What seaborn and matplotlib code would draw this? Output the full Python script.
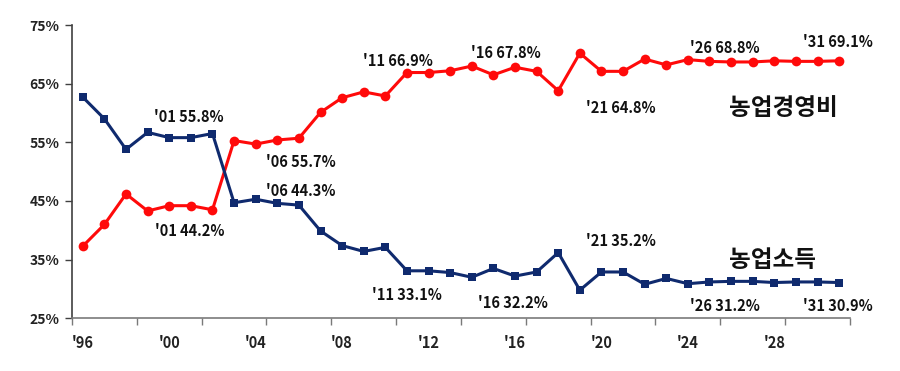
import numpy as np
import pandas as pd
import matplotlib
matplotlib.use("Agg")
import matplotlib.pyplot as plt
import seaborn as sns

# values (share of farm revenue, %)
years = list(range(1996, 2032))
cost_share = [37.3, 41.0, 46.2, 43.3, 44.2, 44.2, 43.5, 55.3, 54.7, 55.4,
              55.7, 60.1, 62.6, 63.6, 62.9, 66.9, 66.9, 67.2, 68.0, 66.5,
              67.8, 67.1, 63.8, 70.2, 67.1, 67.1, 69.2, 68.2, 69.1, 68.8,
              68.7, 68.7, 68.9, 68.8, 68.8, 68.9]
income_share = [62.7, 59.0, 53.8, 56.7, 55.8, 55.8, 56.5, 44.7, 45.3, 44.6,
                44.3, 39.9, 37.4, 36.4, 37.1, 33.1, 33.1, 32.8, 32.0, 33.5,
                32.2, 32.9, 36.2, 29.8, 32.9, 32.9, 30.8, 31.8, 30.9, 31.2,
                31.3, 31.3, 31.1, 31.2, 31.2, 31.1]
ylabels = ["25%", "35%", "45%", "55%", "65%", "75%"]
label_years = years[::4]

# callout labels: (text, x position in years, y in %)
callouts = [
    ("'01 55.8%", 2000.9, 59.3), ("'01 44.2%", 2000.95, 39.9),
    ("'06 55.7%", 2006.1, 51.6), ("'06 44.3%", 2006.1, 46.7),
    ("'11 66.9%", 2010.6, 68.9), ("'11 33.1%", 2011.0, 29.0),
    ("'16 67.8%", 2015.6, 70.2), ("'16 32.2%", 2015.9, 27.6),
    ("'21 64.8%", 2020.9, 60.9), ("'21 35.2%", 2020.9, 38.2),
    ("'26 68.8%", 2025.7, 71.1), ("'26 31.2%", 2025.7, 27.1),
    ("'31 69.1%", 2030.95, 72.1), ("'31 30.9%", 2030.95, 27.1),
]

df = pd.DataFrame({"year": years, "cost": cost_share, "income": income_share})
df["idx"] = df["year"] - years[0]

sns.set_theme(style="white")
plt.rcParams["font.family"] = ["Noto Sans CJK KR", "DejaVu Sans"]

fig = plt.figure(figsize=(9, 3.71), dpi=100)
ax = fig.add_axes([0.08, 0.142, 0.8644, 0.7906])

sns.lineplot(data=df, x="idx", y="cost", ax=ax, color="#ff0a0a", lw=2.2,
             marker="o", markersize=7, markeredgewidth=0)
sns.lineplot(data=df, x="idx", y="income", ax=ax, color="#0f2a6e", lw=2.2,
             marker="s", markersize=6.3, markeredgewidth=0)

ax.set_xlim(-0.5, len(years) - 0.5)
ax.set_ylim(25, 75)
ax.set_xlabel("")
ax.set_ylabel("")

ax.set_yticks(range(25, 76, 10))
ax.set_yticklabels(ylabels, fontsize=10, fontweight="bold", color="#222222")
ax.tick_params(axis="y", direction="out", length=5, width=1, color="#404040", pad=4, left=True)

ax.set_xticks([y - years[0] for y in label_years])
ax.set_xticklabels(["'" + str(y)[2:] for y in label_years], fontsize=10.5,
                   fontweight="bold", color="#222222")
ax.tick_params(axis="x", which="major", length=0, pad=12)
ax.set_xticks(np.arange(-0.5, len(years), 3), minor=True)
ax.tick_params(axis="x", which="minor", direction="out", length=5, width=1,
               color="#7a7a7a", bottom=True)

for s in ["top", "right"]:
    ax.spines[s].set_visible(False)
ax.spines["left"].set_color("#404040")
ax.spines["left"].set_linewidth(1.2)
ax.spines["bottom"].set_color("#7a7a7a")
ax.spines["bottom"].set_linewidth(1.2)

for text, yr, val in callouts:
    ax.text(yr - years[0], val, text, ha="center", va="center", fontsize=10.5,
            fontweight="bold", color="#111111")

ax.text(32.4, 60.85, "농업경영비", ha="center", va="center", fontsize=17,
        fontweight="bold", color="#111111")
ax.text(31.9, 34.9, "농업소득", ha="center", va="center", fontsize=17,
        fontweight="bold", color="#111111")

fig.savefig("out.png", dpi=100)
